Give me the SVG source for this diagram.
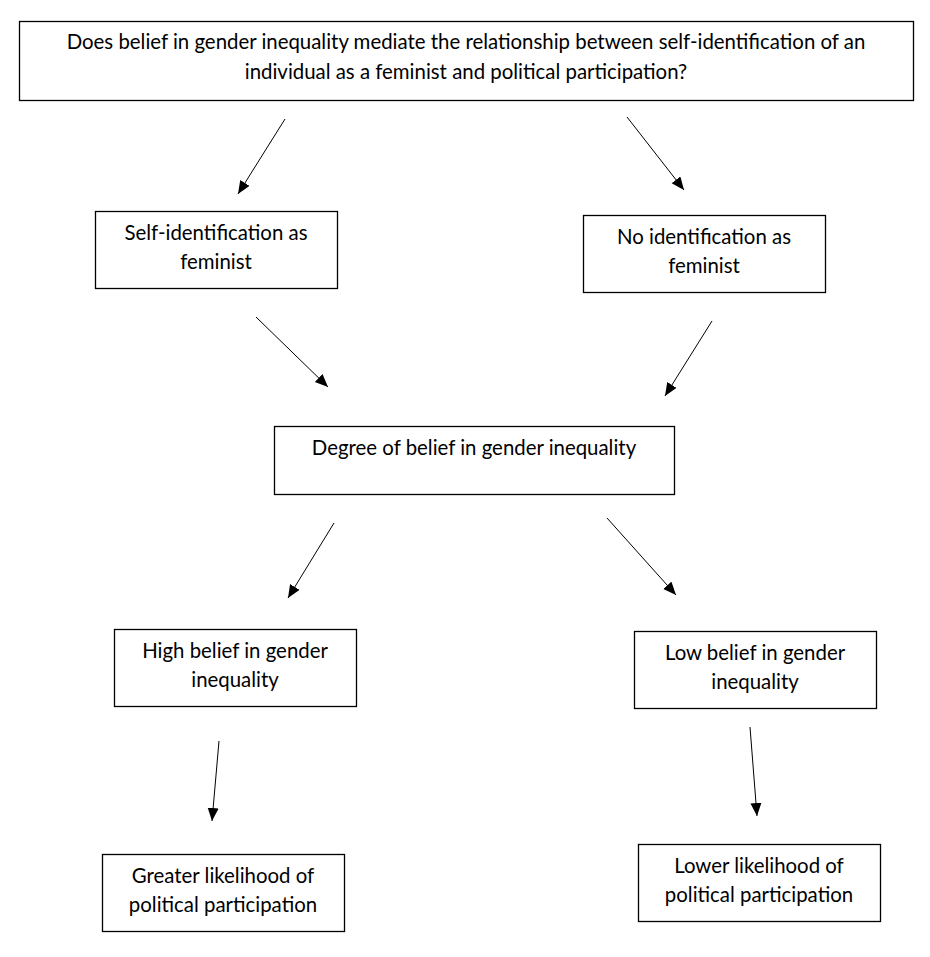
<svg xmlns="http://www.w3.org/2000/svg" width="930" height="957" viewBox="0 0 930 957">
<style>
.box{fill:#fff;stroke:#000;stroke-width:1.3}
.t{font-family:Lato,"Open Sans","Liberation Sans",sans-serif;font-size:20.4px;fill:#000;text-anchor:middle}
.c{stroke:#000;stroke-width:1;fill:none;marker-end:url(#ah)}
</style>
<defs>
<marker id="ah" markerUnits="userSpaceOnUse" markerWidth="14" markerHeight="12" refX="13" refY="5.5" orient="auto">
<path d="M0,0 L13,5.5 L0,11 Z" fill="#000"/>
</marker>
</defs>
<rect width="930" height="957" fill="#fff"/>
<g id="question">
<rect class="box" x="19.5" y="21.5" width="894" height="79"/>
<text class="t" x="466" y="49">Does belief in gender inequality mediate the relationship between self-identification of an</text>
<text class="t" x="466" y="79">individual as a feminist and political participation?</text>
</g>
<g id="self-id">
<rect class="box" x="95.5" y="211.5" width="242" height="77"/>
<text class="t" x="216" y="240">Self-identification as</text>
<text class="t" x="216" y="269">feminist</text>
</g>
<g id="no-id">
<rect class="box" x="583.5" y="215.5" width="242" height="77"/>
<text class="t" x="704" y="244">No identification as</text>
<text class="t" x="704" y="273">feminist</text>
</g>
<g id="degree">
<rect class="box" x="274.5" y="426.5" width="400" height="68"/>
<text class="t" x="474" y="455">Degree of belief in gender inequality</text>
</g>
<g id="high">
<rect class="box" x="114.5" y="629.5" width="242" height="77"/>
<text class="t" x="235" y="658">High belief in gender</text>
<text class="t" x="235" y="687">inequality</text>
</g>
<g id="low">
<rect class="box" x="634.5" y="631.5" width="242" height="77"/>
<text class="t" x="755" y="660">Low belief in gender</text>
<text class="t" x="755" y="689">inequality</text>
</g>
<g id="greater">
<rect class="box" x="102.5" y="854.5" width="242" height="77"/>
<text class="t" x="223" y="883">Greater likelihood of</text>
<text class="t" x="223" y="912">political participation</text>
</g>
<g id="lower">
<rect class="box" x="638.5" y="844.5" width="242" height="77"/>
<text class="t" x="759" y="873">Lower likelihood of</text>
<text class="t" x="759" y="902">political participation</text>
</g>
<g id="connectors">
<line class="c" x1="285" y1="119" x2="238" y2="194"/>
<line class="c" x1="627" y1="117" x2="684" y2="190"/>
<line class="c" x1="256" y1="317" x2="328" y2="387"/>
<line class="c" x1="712" y1="321" x2="665" y2="396"/>
<line class="c" x1="334" y1="523" x2="288" y2="598"/>
<line class="c" x1="607" y1="518" x2="676" y2="595"/>
<line class="c" x1="219" y1="741" x2="212" y2="821"/>
<line class="c" x1="750" y1="727" x2="757" y2="816"/>
</g>
</svg>
